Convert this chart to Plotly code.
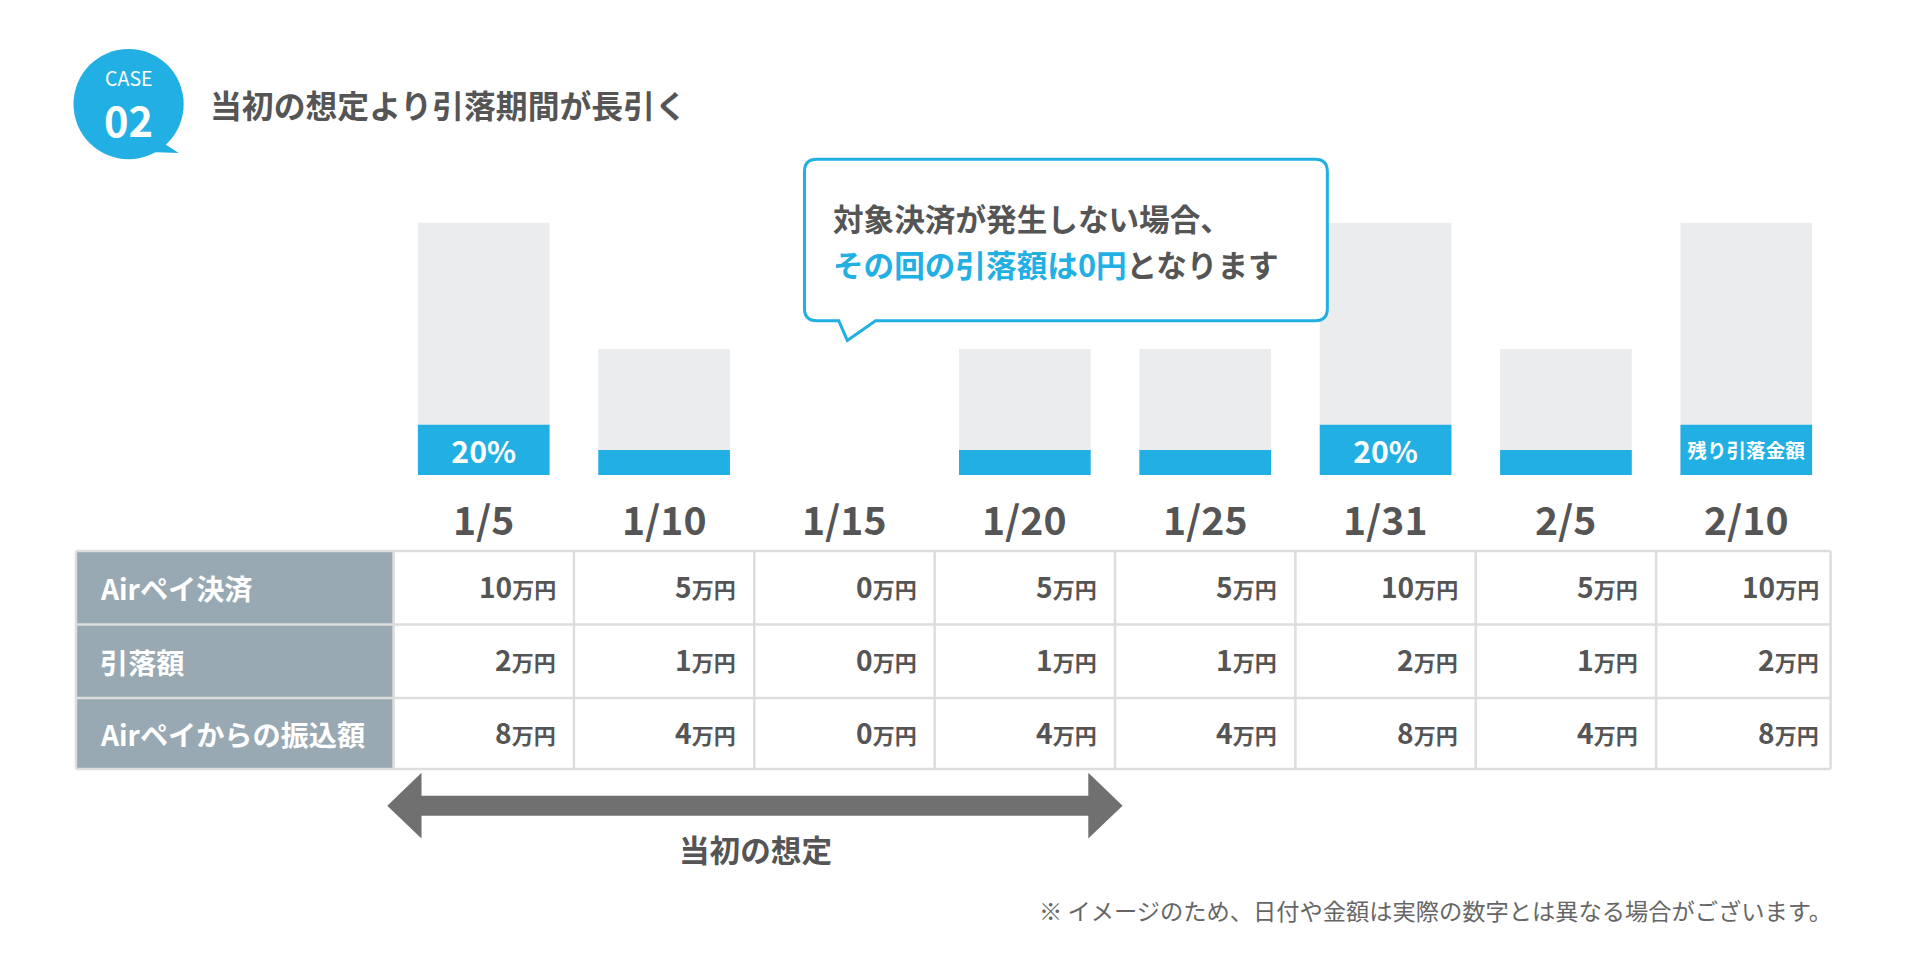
import plotly.graph_objects as go

W0 = 1568.0
S = 1920 / W0
FW, FH = 1904, 956
OFF = 8
def px(x): return (x * S - OFF) / FW
def py(y): return 1 - (y * S - OFF) / FH
def fs(v): return v * S

FONT = "Noto Sans CJK JP"
BLUE = "#22afe4"
GRAY_TXT = "#555555"

dates = ["1/5", "1/10", "1/15", "1/20", "1/25", "1/31", "2/5", "2/10"]
payment = [10, 5, 0, 5, 5, 10, 5, 10]      # Airペイ決済 (万円)
deduction = [2, 1, 0, 1, 1, 2, 1, 2]       # 引落額 (万円)
transfer = [8, 4, 0, 4, 4, 8, 4, 8]        # Airペイからの振込額 (万円)
bar_labels = ["20%", "", "", "", "", "20%", "", "残り引落金額"]
row_names = ["Airペイ決済", "引落額", "Airペイからの振込額"]

fig = go.Figure()
fig.add_trace(go.Bar(x=dates, y=payment, marker=dict(color="#ebecee", line=dict(width=0)),
                     width=0.73, hoverinfo="skip"))
bl_sizes = [fs(30) if t == "20%" else fs(16) for t in bar_labels]
fig.add_trace(go.Bar(x=dates, y=deduction, marker=dict(color=BLUE, line=dict(width=0)), width=0.73,
                     text=[f"<b>{t}</b>" for t in bar_labels], textposition="inside",
                     insidetextanchor="middle", textangle=0,
                     textfont=dict(color="white", size=bl_sizes, family=FONT),
                     hoverinfo="skip"))

x_left, x_right = 321.4, 1499.8
y_bot, y_top = 388, 388 - 12 * 20.6
fig.update_layout(
    width=FW, height=FH, margin=dict(l=0, r=0, t=0, b=0),
    paper_bgcolor="white", plot_bgcolor="rgba(0,0,0,0)", barmode="overlay",
    showlegend=False, font=dict(family=FONT),
    xaxis=dict(domain=[px(x_left), px(x_right)], range=[-0.5, 7.5], visible=False,
               type="category", fixedrange=True),
    yaxis=dict(domain=[py(y_bot), py(y_top)], range=[0, 12], visible=False),
)

shapes, anns = [], []
def A(x, y, text, size, color, xa="center", **kw):
    anns.append(dict(x=px(x), y=py(y), xref="paper", yref="paper", text=text, showarrow=False,
                     xanchor=xa, yanchor="middle", font=dict(size=fs(size), color=color), **kw))

step = (x_right - x_left) / 8
for i, d in enumerate(dates):
    A(x_left + (i + 0.5) * step, 423, f"<b>{d}</b>", 32, GRAY_TXT)

# table
rows_y = [450, 510, 570, 628]
cols_x = [x_left + i * step for i in range(9)]
shapes.append(dict(type="rect", x0=px(62), x1=px(x_left), y0=py(rows_y[0]), y1=py(rows_y[3]),
                   xref="paper", yref="paper", fillcolor="#98a9b3", line=dict(width=0), layer="below"))
for y in rows_y:
    shapes.append(dict(type="line", x0=px(62), x1=px(1495), y0=py(y), y1=py(y), xref="paper",
                       yref="paper", line=dict(color="#dddddd", width=2.5)))
for x in [62] + cols_x:
    xx = min(x, 1495)
    shapes.append(dict(type="line", x0=px(xx), x1=px(xx), y0=py(rows_y[0]),
                       y1=py(rows_y[3]), xref="paper", yref="paper",
                       line=dict(color="#dddddd", width=2.5)))
for r, (name, vals) in enumerate(zip(row_names, [payment, deduction, transfer])):
    yc = (rows_y[r] + rows_y[r + 1]) / 2
    A(80, yc, f"<b>{name}</b>", 23, "white", xa="left")
    for i, v in enumerate(vals):
        A(cols_x[i + 1] - 13, yc - 2,
          f"<b>{v}<span style='font-size:{fs(18):.0f}px'>万円</span></b>", 23, GRAY_TXT, xa="right")

def path(pts, close=True):
    return "M" + " L".join(f"{px(x):.5f},{py(y):.5f}" for x, y in pts) + (" Z" if close else "")

# badge
shapes.append(dict(type="circle", x0=px(60), x1=px(150), y0=py(40), y1=py(130), xref="paper",
                   yref="paper", fillcolor=BLUE, line=dict(width=0)))
shapes.append(dict(type="path", path=path([(126, 112), (146, 125), (116, 124)]),
                   xref="paper", yref="paper", fillcolor=BLUE, line=dict(width=0)))
A(105, 63, "CASE", 16, "white")
A(105, 97, "<b>02</b>", 34, "white")
A(170, 85, "<b>当初の想定より引落期間が長引く</b>", 26, GRAY_TXT, xa="left")

# callout with rounded corners and tail
x0, x1, y0, y1, r = 657, 1084, 130, 262, 10
def P(x, y): return f"{px(x):.5f},{py(y):.5f}"
callout = (f"M{P(x0 + r, y0)} L{P(x1 - r, y0)} Q{P(x1, y0)} {P(x1, y0 + r)} "
           f"L{P(x1, y1 - r)} Q{P(x1, y1)} {P(x1 - r, y1)} L{P(715, y1)} L{P(692, 278)} "
           f"L{P(685, y1)} L{P(x0 + r, y1)} Q{P(x0, y1)} {P(x0, y1 - r)} L{P(x0, y0 + r)} "
           f"Q{P(x0, y0)} {P(x0 + r, y0)} Z")
shapes.append(dict(type="path", path=callout, xref="paper", yref="paper", fillcolor="white",
                   line=dict(color=BLUE, width=3)))
A(679, 178, "<b>対象決済が発生しない場合、</b>", 25, GRAY_TXT, xa="left")
A(679, 215, f"<b><span style='color:{BLUE}'>その回の引落額は0円</span>となります</b>", 25,
  GRAY_TXT, xa="left")

# arrow
arrow_pts = [(318, 658), (343, 634), (343, 651), (890, 651), (890, 634), (915, 658),
             (890, 682), (890, 665), (343, 665), (343, 682)]
shapes.append(dict(type="path", path=path(arrow_pts), xref="paper", yref="paper",
                   fillcolor="#707070", line=dict(color="#707070", width=3)))
A(617, 693, "<b>当初の想定</b>", 25, GRAY_TXT)
A(1498, 743, "※ イメージのため、日付や金額は実際の数字とは異なる場合がございます。", 19,
  "#666666", xa="right")

fig.update_layout(shapes=shapes, annotations=anns)
fig.write_html("out.html")
